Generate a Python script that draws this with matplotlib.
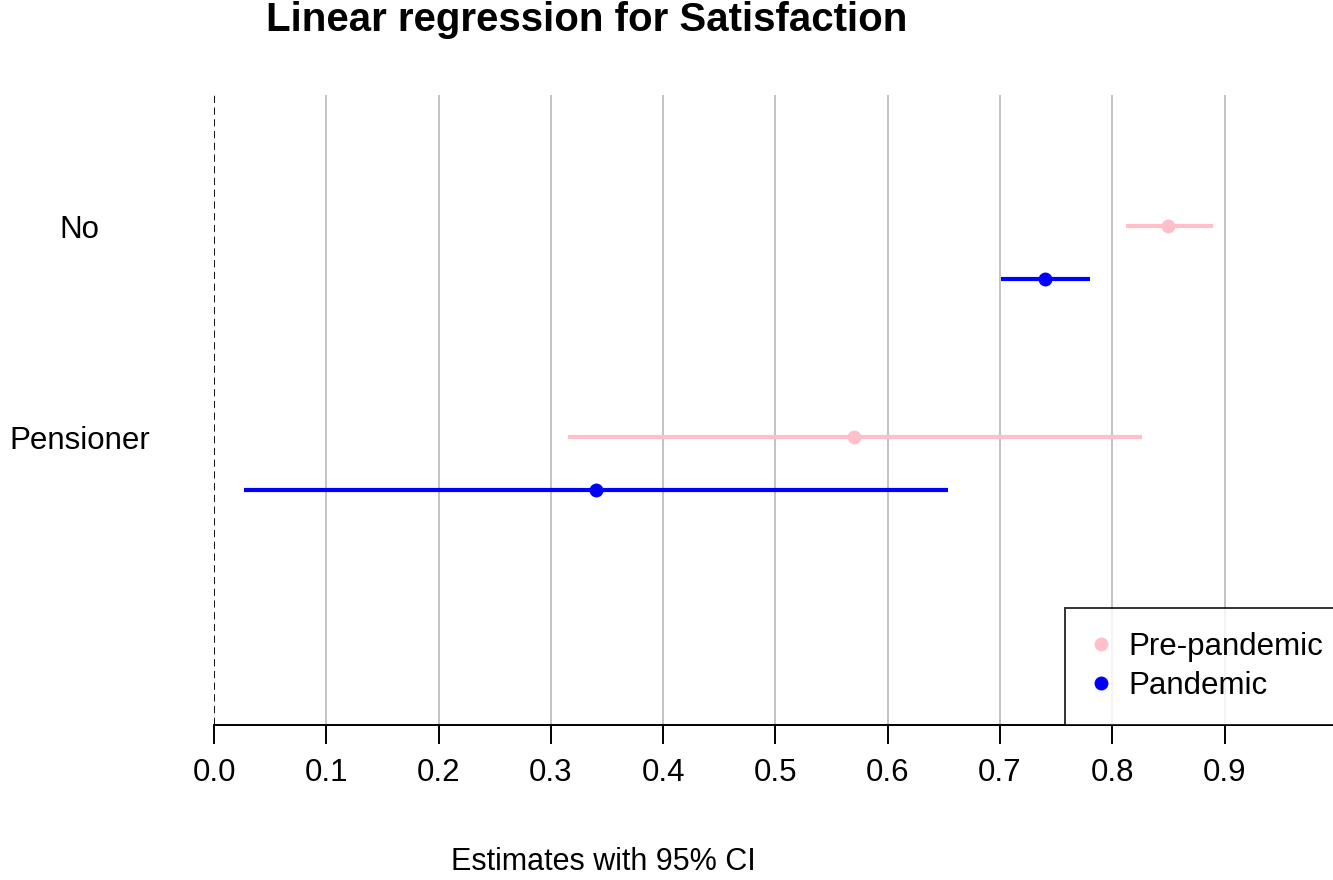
import matplotlib.pyplot as plt
from matplotlib.lines import Line2D

plt.rcParams['font.family'] = ['Liberation Sans', 'DejaVu Sans']

groups = ['No', 'Pensioner']
periods = ['Pre-pandemic', 'Pandemic']
colors = ['#FFC0CB', '#0000FF']

# estimates and 95% CI, one list per period (order as in groups)
pre_est = [0.850, 0.570]
pre_lo = [0.812, 0.315]
pre_hi = [0.890, 0.826]
pan_est = [0.740, 0.340]
pan_lo = [0.701, 0.027]
pan_hi = [0.780, 0.654]

xticks = [0.0, 0.1, 0.2, 0.3, 0.4, 0.5, 0.6, 0.7, 0.8, 0.9]

fig = plt.figure(figsize=(13.33, 8.8), dpi=100)
ax = fig.add_axes([214 / 1333, 1 - 725 / 880, 1 - 214 / 1333, (725 - 95) / 880])

for x in xticks[1:]:
    ax.axvline(x, color='#BEBEBE', lw=1.3, zorder=0)
ax.axvline(0, color='black', ls=(0, (4, 2.5)), lw=1.3, zorder=1)

series = [(pre_est, pre_lo, pre_hi), (pan_est, pan_lo, pan_hi)]
for k, (est, lo, hi) in enumerate(series):
    for i in range(len(groups)):
        y = i + 0.25 * k
        ax.plot([lo[i], hi[i]], [y, y], color=colors[k], lw=3, solid_capstyle='butt', zorder=2)
        ax.plot(est[i], y, 'o', color=colors[k], ms=9, zorder=3)

ax.set_xlim(0, 0.9965)
ax.set_ylim(2.365, -0.621)

ax.set_xticks(xticks)
ax.set_xticklabels([f'{x:.1f}' for x in xticks])
ax.tick_params(axis='x', length=13.5, width=1.4, pad=10, labelsize=22.5, colors='black')
ax.set_yticks(range(len(groups)))
ax.set_yticklabels(groups, ha='center')
ax.tick_params(axis='y', length=0, pad=97, labelsize=22.5)

for s in ['top', 'right', 'left']:
    ax.spines[s].set_visible(False)
ax.spines['bottom'].set_linewidth(1.4)

fig.text(587 / 1333, 1 - 20 / 880, 'Linear regression for Satisfaction',
         ha='center', va='center', fontsize=29, fontweight='bold')
fig.text(603 / 1333, 1 - 862 / 880, 'Estimates with 95% CI', ha='center', va='center', fontsize=22)

handles = [Line2D([], [], ls='', marker='o', color=c, ms=9) for c in colors]
leg = ax.legend(handles, periods, loc='lower left', bbox_to_anchor=(1065 / 1333, 1 - 725 / 880),
                bbox_transform=fig.transFigure, fontsize=22.5, frameon=True, fancybox=False,
                edgecolor='black', handlelength=0.8, handletextpad=0.47, labelspacing=0.29,
                borderpad=0.76, borderaxespad=0)
leg.get_frame().set_linewidth(1.4)

fig.savefig('out.png', dpi=100)
